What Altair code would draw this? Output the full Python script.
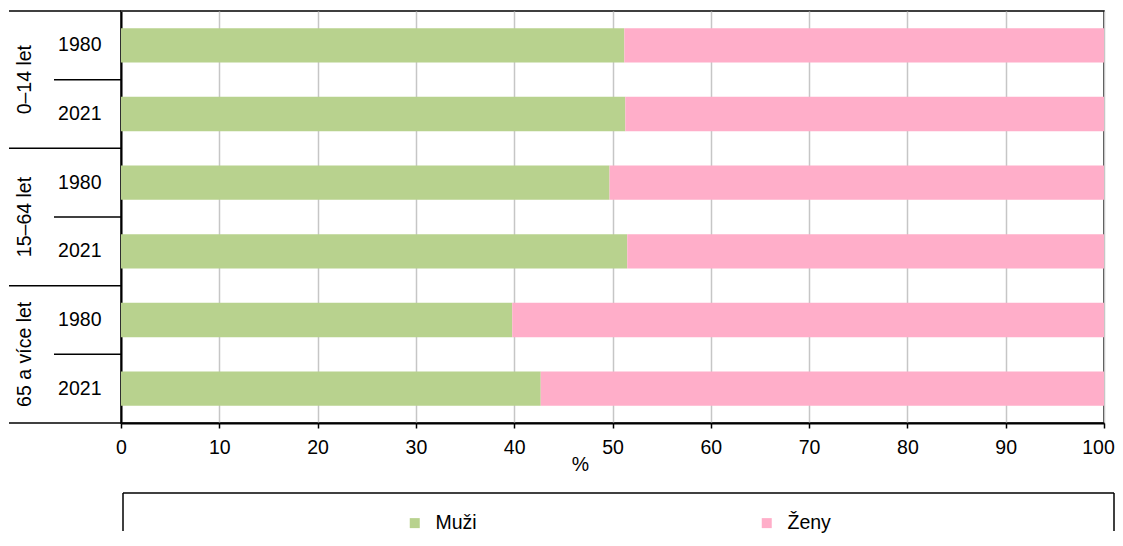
import altair as alt
import pandas as pd

groups = ["0–14 let", "15–64 let", "65 a více let"]
years = ["1980", "2021"]
muzi = [51.2, 51.3, 49.7, 51.5, 39.8, 42.7]
zeny = [48.8, 48.7, 50.3, 48.5, 60.2, 57.3]
series = ["Muži", "Ženy"]
colors = ["#b8d28e", "#ffaec9"]
x_ticks = [0, 10, 20, 30, 40, 50, 60, 70, 80, 90, 100]

rows = [f"{g}|{y}" for g in groups for y in years]

recs = []
for i, r in enumerate(rows):
    recs.append({"row": r, "series": series[0], "value": muzi[i], "ord": 0})
    recs.append({"row": r, "series": series[1], "value": zeny[i], "ord": 1})
df = pd.DataFrame(recs)

df_2021 = pd.DataFrame({"row": [f"{g}|2021" for g in groups], "group": groups})
df_1980 = pd.DataFrame({"row": [f"{g}|1980" for g in groups], "group": groups})
df_last = pd.DataFrame({"row": [rows[-1]]})
df_box = pd.DataFrame({"k": [0]})

FONT = "Liberation Sans"
FS = 19.5

yscale = alt.Scale(domain=rows, paddingInner=0, paddingOuter=0)
yaxis = alt.Axis(
    title=None,
    labelExpr="split(datum.value, '|')[1]",
    labelFontSize=FS,
    labelColor="#000",
    labelPadding=20,
    ticks=False,
    domainColor="#000",
    domainWidth=2,
    grid=False,
)

bars = alt.Chart(df).mark_bar(height={"band": 0.5}).encode(
    x=alt.X(
        "value:Q",
        stack="zero",
        scale=alt.Scale(domain=[0, 100], nice=False),
        axis=alt.Axis(
            values=x_ticks,
            title="%",
            titleFontSize=FS,
            titleFontWeight="normal",
            titleColor="#000",
            titleX=459,
            titleY=41,
            titleBaseline="middle",
            titleAlign="center",
            labelFontSize=FS,
            labelColor="#000",
            labelPadding=10,
            labelFlush=False,
            labelOffset={"condition": {"test": "datum.value == 100", "value": -6}, "value": 0},
            tickSize=5,
            tickColor="#000",
            tickWidth=1.5,
            domainColor="#000",
            domainWidth=2,
            gridColor="#c6c6c6",
            gridWidth=1.5,
        ),
    ),
    y=alt.Y("row:N", scale=yscale, axis=yaxis),
    color=alt.Color(
        "series:N",
        scale=alt.Scale(domain=series, range=colors),
        legend=alt.Legend(
            title=None,
            orient="none",
            legendX=284,
            legendY=502,
            direction="horizontal",
            columns=2,
            columnPadding=280,
            symbolType="square",
            symbolSize=100,
            symbolStrokeWidth=0,
            labelFontSize=FS,
            labelColor="#000",
            labelOffset=11,
            padding=0,
        ),
    ),
    order=alt.Order("ord:Q"),
)

inner_rules = alt.Chart(df_2021).mark_rule(color="#000", strokeWidth=1.5).encode(
    y=alt.Y("row:N", bandPosition=0, scale=yscale, axis=yaxis),
    x=alt.value(-67),
    x2=alt.value(0),
)

group_rules = alt.Chart(df_1980).mark_rule(color="#000", strokeWidth=1.5).encode(
    y=alt.Y("row:N", bandPosition=0, scale=yscale, axis=yaxis),
    x=alt.value(-112),
    x2=alt.value(0),
)

bottom_rule = alt.Chart(df_last).mark_rule(color="#000", strokeWidth=1.5).encode(
    y=alt.Y("row:N", bandPosition=1, scale=yscale, axis=yaxis),
    x=alt.value(-112),
    x2=alt.value(0),
)

group_text = alt.Chart(df_2021).mark_text(
    angle=270, align="center", baseline="alphabetic", fontSize=FS, color="#000"
).encode(
    y=alt.Y("row:N", bandPosition=0, scale=yscale, axis=yaxis),
    x=alt.value(-90),
    text="group:N",
)

box_top = alt.Chart(df_box).mark_rule(color="#000", strokeWidth=1.5).encode(
    x=alt.value(2), x2=alt.value(993), y=alt.value(482)
)
box_left = alt.Chart(df_box).mark_rule(color="#000", strokeWidth=1.5).encode(
    x=alt.value(2), y=alt.value(482), y2=alt.value(520)
)
box_right = alt.Chart(df_box).mark_rule(color="#000", strokeWidth=1.5).encode(
    x=alt.value(993), y=alt.value(482), y2=alt.value(520)
)

chart = alt.layer(
    bars, inner_rules, group_rules, bottom_rule, group_text, box_top, box_left, box_right
).properties(
    width=983,
    height=412,
    padding={"left": 0, "top": 2, "right": 0, "bottom": 0},
).configure(
    font=FONT,
).configure_view(
    stroke="#000",
    strokeWidth=1.5,
)

chart.save("out.html", embed_options={"renderer": "svg", "actions": False})
